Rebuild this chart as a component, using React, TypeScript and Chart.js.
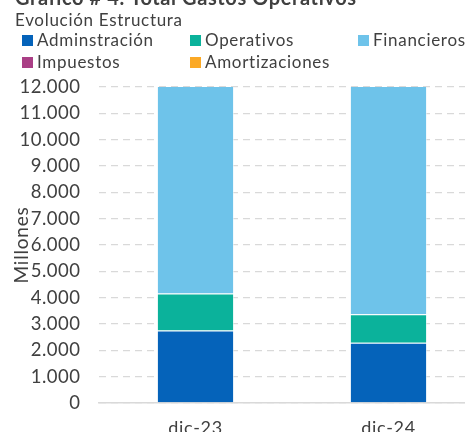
import React, { useEffect, useRef } from "react";
import { Chart, registerables } from "chart.js";

Chart.register(...registerables);

const titleText = "Gráfico # 4. Total Gastos Operativos";
const subtitleText = "Evolución Estructura";
const yAxisTitle = "Millones";
const categories = ["dic-23", "dic-24"];
const seriesNames = ["Adminstración", "Operativos", "Financieros", "Impuestos", "Amortizaciones"];
const seriesColors = ["#0563BA", "#0BB29B", "#6EC3EA", "#AA3F86", "#FBA926"];
const administracion = [2750, 2290];
const operativos = [1410, 1080];
const financieros = [14500, 15200];
const impuestos = [1200, 1100];
const amortizaciones = [600, 550];
const yMin = 0;
const yMax = 12000;
const yStep = 1000;

const seriesValues = [administracion, operativos, financieros, impuestos, amortizaciones];

const FONT = "Lato, 'Open Sans', sans-serif";
const TEXT_COLOR = "#404040";

function fmt(v: number): string {
  const s = Math.round(v).toString();
  return s.replace(/\B(?=(\d{3})+(?!\d))/g, ".");
}

function withSpacing(obj: any, method: string, spacing: string) {
  if (!obj || obj["__sp_" + method]) return;
  const orig = obj[method].bind(obj);
  obj[method] = function (...args: any[]) {
    const ctx = obj.ctx;
    const prev = ctx.letterSpacing;
    ctx.letterSpacing = spacing;
    orig(...args);
    ctx.letterSpacing = prev || "0px";
  };
  obj["__sp_" + method] = true;
}

const headerPlugin = {
  id: "headerLegend",
  beforeDraw(chart: any) {
    withSpacing(chart.scales.y, "drawLabels", "0.5px");
    withSpacing(chart.scales.y, "drawTitle", "0.8px");
    withSpacing(chart.scales.x, "drawLabels", "0.7px");
  },
  afterDraw(chart: any) {
    const ctx = chart.ctx;
    ctx.save();
    ctx.textBaseline = "alphabetic";
    ctx.textAlign = "left";
    ctx.fillStyle = TEXT_COLOR;
    ctx.letterSpacing = "0.6px";
    ctx.font = `bold 20px ${FONT}`;
    ctx.fillText(titleText, 15, 4.5);
    ctx.letterSpacing = "0.7px";
    ctx.font = `17px ${FONT}`;
    ctx.fillText(subtitleText, 15, 26);
    const colX = [22, 190, 358];
    const rowY = [46, 68];
    chart.data.datasets.forEach((ds: any, i: number) => {
      const col = i % 3;
      const row = Math.floor(i / 3);
      const x = colX[col];
      const y = rowY[row];
      ctx.fillStyle = ds.backgroundColor;
      ctx.fillRect(x, y - 11, 11, 11);
      ctx.fillStyle = TEXT_COLOR;
      ctx.fillText(ds.label, x + 15, y);
    });
    ctx.restore();
    ctx.letterSpacing = "0px";
  },
};

export default function App() {
  const ref = useRef<HTMLCanvasElement | null>(null);
  useEffect(() => {
    if (!ref.current) return;
    const chart = new Chart(ref.current, {
      type: "bar",
      data: {
        labels: categories,
        datasets: seriesNames.map((name, i) => ({
          label: name,
          data: seriesValues[i],
          backgroundColor: seriesColors[i],
          borderColor: "rgba(255,255,255,0.55)",
          borderWidth: 1,
          barPercentage: 0.4,
          categoryPercentage: 1,
        })),
      },
      options: {
        responsive: false,
        animation: false,
        layout: { padding: { top: 87, left: 0, right: 0, bottom: 0 } },
        plugins: {
          legend: { display: false },
          title: { display: false },
          tooltip: { enabled: false },
        },
        scales: {
          x: {
            stacked: true,
            grid: { display: false, drawTicks: false },
            border: { display: true, color: "#d9d9d9", width: 1.5 },
            ticks: {
              color: TEXT_COLOR,
              font: { family: FONT, size: 18 },
              padding: 14,
            },
            afterFit: (scale: any) => {
              scale.height = 42;
            },
          },
          y: {
            stacked: true,
            min: yMin,
            max: yMax,
            grid: {
              color: "#d9d9d9",
              lineWidth: 1.3,
              drawTicks: false,
            },
            border: { display: false, dash: [7, 5] },
            ticks: {
              stepSize: yStep,
              color: TEXT_COLOR,
              font: { family: FONT, size: 18.5 },
              padding: 18.5,
              callback: (v: any) => fmt(Number(v)),
            },
            title: {
              display: true,
              text: yAxisTitle,
              color: TEXT_COLOR,
              font: { family: FONT, size: 19 },
              padding: { top: 10, bottom: 0 },
            },
            afterFit: (scale: any) => {
              scale.width = 99;
            },
          },
        },
      },
      plugins: [headerPlugin],
    });
    return () => chart.destroy();
  }, []);
  return (
    <div
      style={{
        position: "fixed",
        left: 0,
        top: 0,
        width: 465,
        height: 432,
        overflow: "hidden",
        background: "#ffffff",
      }}
    >
      <canvas ref={ref} width={485} height={445} style={{ display: "block" }} />
    </div>
  );
}
